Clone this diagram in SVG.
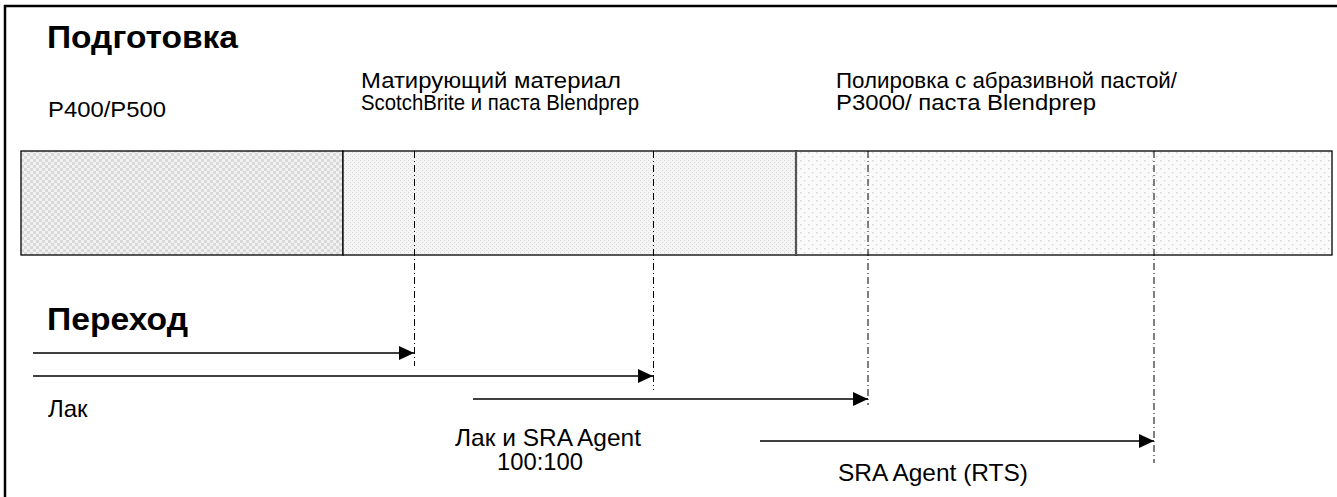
<svg xmlns="http://www.w3.org/2000/svg" width="1337" height="497" viewBox="0 0 1337 497">
<defs>
<style>
.h{font-family:"Liberation Sans",Arial,sans-serif;font-weight:bold;font-size:32px;fill:#000}
.t{font-family:"Liberation Sans",Arial,sans-serif;font-size:22px;fill:#000}
.b{font-family:"Liberation Sans",Arial,sans-serif;font-size:24px;fill:#000}
.dd{stroke:#000;stroke-width:1;stroke-dasharray:7,3,1,3;fill:none}
.ar{stroke:#000;stroke-width:1.3;fill:none;marker-end:url(#ah)}
</style>
<pattern id="p1" width="6" height="6" patternUnits="userSpaceOnUse">
<rect width="6" height="6" fill="#f1f1f1"/>
<rect width="3" height="3" fill="#d9d9d9"/>
<rect x="3" y="3" width="3" height="3" fill="#d9d9d9"/>
</pattern>
<pattern id="p2" width="4" height="4" patternUnits="userSpaceOnUse">
<rect width="4" height="4" fill="#f5f5f5"/>
<rect width="1" height="1" fill="#d6d6d6"/>
<rect x="2" y="2" width="1" height="1" fill="#d6d6d6"/>
</pattern>
<pattern id="p3" width="8" height="8" patternUnits="userSpaceOnUse">
<rect width="8" height="8" fill="#fbfbfb"/>
<rect width="1.5" height="1.5" fill="#d4d4d4"/>
<rect x="4" y="4" width="1.5" height="1.5" fill="#d4d4d4"/>
</pattern>
<marker id="ah" markerWidth="15" markerHeight="14" refX="15" refY="7" orient="auto" markerUnits="userSpaceOnUse">
<path d="M0,0 L15,7 L0,14 Z" fill="#000"/>
</marker>
</defs>
<rect width="1337" height="497" fill="#fff"/>
<g id="frame">
<line x1="4" y1="6" x2="1337" y2="6" stroke="#000" stroke-width="2.5"/>
<line x1="5" y1="5" x2="5" y2="497" stroke="#000" stroke-width="2.5"/>
</g>
<g id="titles">
<text class="h" x="47" y="48" textLength="191" lengthAdjust="spacingAndGlyphs">Подготовка</text>
<text class="h" x="47" y="330" textLength="141" lengthAdjust="spacingAndGlyphs">Переход</text>
</g>
<g id="stage1">
<rect x="21" y="151" width="322" height="104" fill="url(#p1)" stroke="#000" stroke-width="1.3"/>
<text class="t" x="48" y="117" textLength="118" lengthAdjust="spacingAndGlyphs">P400/P500</text>
</g>
<g id="stage2">
<rect x="343" y="151" width="453" height="104" fill="url(#p2)" stroke="#000" stroke-width="1.3"/>
<text class="t" x="361" y="88" textLength="260" lengthAdjust="spacingAndGlyphs">Матирующий материал</text>
<text class="t" x="361" y="110" textLength="278" lengthAdjust="spacingAndGlyphs">ScotchBrite и паста Blendprep</text>
</g>
<g id="stage3">
<rect x="796" y="151" width="536" height="104" fill="url(#p3)" stroke="#000" stroke-width="1.3"/>
<line x1="796" y1="151" x2="796" y2="255" stroke="#555" stroke-width="2.2"/>
<text class="t" x="836" y="88" textLength="341" lengthAdjust="spacingAndGlyphs">Полировка с абразивной пастой/</text>
<text class="t" x="836" y="110" textLength="260" lengthAdjust="spacingAndGlyphs">P3000/ паста Blendprep</text>
</g>
<g id="connectors">
<line class="dd" x1="414.5" y1="151" x2="414.5" y2="366"/>
<line class="dd" x1="653.5" y1="151" x2="653.5" y2="390"/>
<line class="dd" x1="868" y1="151" x2="868" y2="405"/>
<line class="dd" x1="1154" y1="151" x2="1154" y2="463"/>
<line class="ar" x1="33" y1="353" x2="414" y2="353"/>
<line class="ar" x1="33" y1="376" x2="653" y2="376"/>
<line class="ar" x1="473" y1="399" x2="868" y2="399"/>
<line class="ar" x1="760" y1="441" x2="1154" y2="441"/>
</g>
<g id="labels">
<text class="b" x="48" y="417">Лак</text>
<text class="b" x="455" y="446" textLength="186" lengthAdjust="spacingAndGlyphs">Лак и SRA Agent</text>
<text class="b" x="497" y="470" textLength="86" lengthAdjust="spacingAndGlyphs">100:100</text>
<text class="b" x="838" y="481" textLength="190" lengthAdjust="spacingAndGlyphs">SRA Agent (RTS)</text>
</g>
</svg>
